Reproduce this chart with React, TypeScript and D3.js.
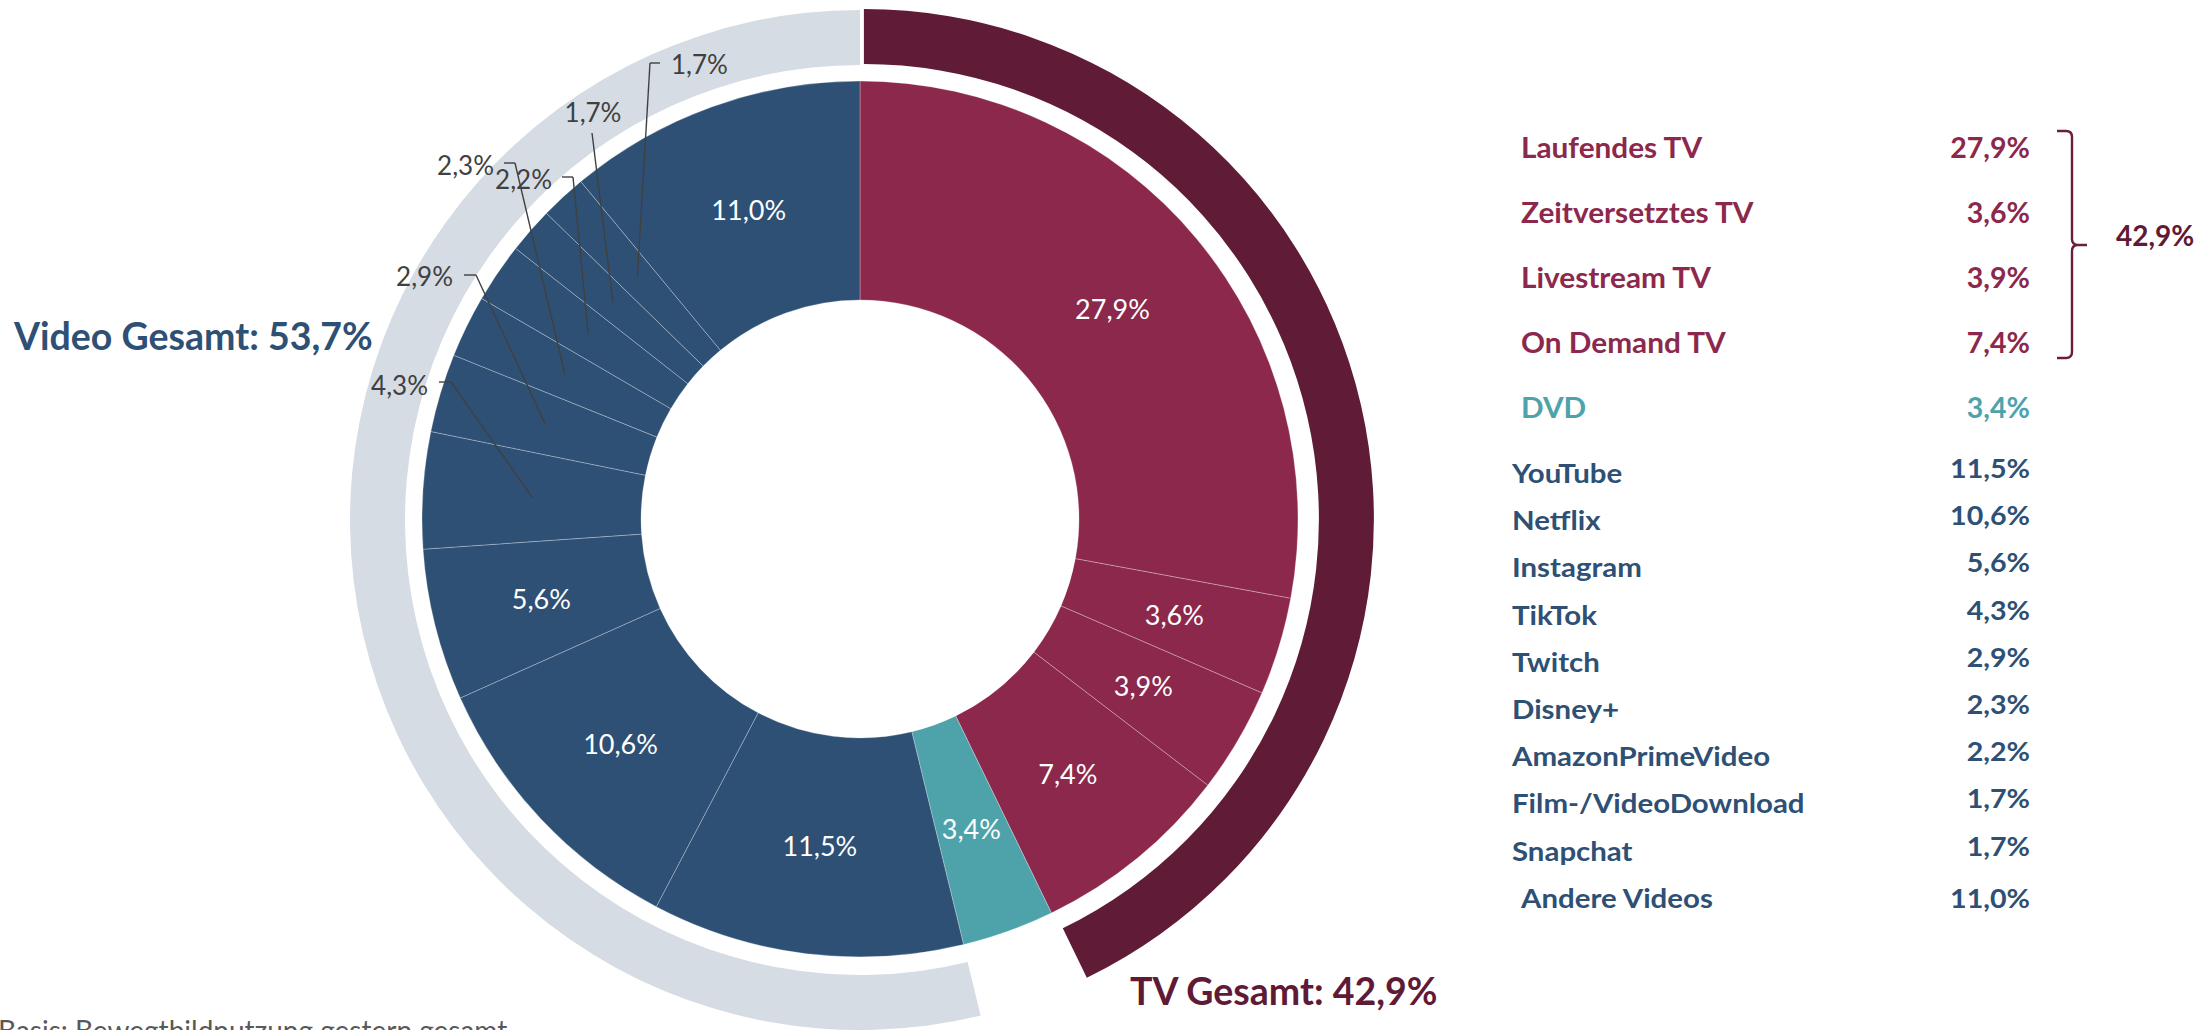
import React from "react";
import * as d3 from "d3";

// ---------- data ----------
const categories = [
  "Laufendes TV",
  "Zeitversetztes TV",
  "Livestream TV",
  "On Demand TV",
  "DVD",
  "YouTube",
  "Netflix",
  "Instagram",
  "TikTok",
  "Twitch",
  "Disney+",
  "AmazonPrimeVideo",
  "Film-/VideoDownload",
  "Snapchat",
  "Andere Videos",
];
const values = [27.9, 3.6, 3.9, 7.4, 3.4, 11.5, 10.6, 5.6, 4.3, 2.9, 2.3, 2.2, 1.7, 1.7, 11.0];
const groups = [
  "tv", "tv", "tv", "tv", "dvd",
  "video", "video", "video", "video", "video", "video", "video", "video", "video", "video",
];
const groupKeys = ["tv", "video"];
const groupTitles = ["TV Gesamt", "Video Gesamt"];
const groupTotals = [42.9, 53.7];
const footnote = "Basis: Bewegtbildnutzung gestern gesamt";

// ---------- layout / style ----------
const W = 2200;
const H = 1030;
const cx = 860;
const cy = 519;
const rIn = 219;
const rOut = 438;
const ringCy = 520;
const ringIn = 455;
const ringOut = 510;

const sliceColor: Record<string, string> = { tv: "#8c284c", dvd: "#4ea3aa", video: "#2e5075" };
const ringColor: Record<string, string> = { tv: "#601c36", video: "#d5dce4" };
const ringExplode: Record<string, number> = { tv: 4, video: 0 };
const totalColor: Record<string, string> = { tv: "#5f1a35", video: "#2e5075" };
const FONT = "Lato, 'Open Sans', sans-serif";

// hand-placed callouts for the small slices (absolute svg coords)
type Callout = { tx: number; ty: number; anchor: string; tick?: [number, number, number]; from: [number, number] };
const callouts: Record<string, Callout> = {
  TikTok: { tx: 428, ty: 385, anchor: "end", tick: [439, 451, 382], from: [451, 382] },
  Twitch: { tx: 453, ty: 276, anchor: "end", tick: [464, 476, 275], from: [476, 275] },
  "Disney+": { tx: 494, ty: 165, anchor: "end", tick: [504, 515, 163], from: [515, 163] },
  AmazonPrimeVideo: { tx: 552, ty: 179, anchor: "end", tick: [562, 573, 177], from: [573, 177] },
  "Film-/VideoDownload": { tx: 593, ty: 112, anchor: "middle", from: [592, 133] },
  Snapchat: { tx: 671, ty: 64, anchor: "start", tick: [650, 660, 63], from: [650, 63] },
};

const locale = d3.formatLocale({ decimal: ",", thousands: ".", grouping: [3], currency: ["", " €"] });
const f1 = locale.format(".1f");
const pct = (v: number) => f1(v) + "%";

function SText(props: { x: number; y: number; sx: number; anchor?: string; children: any }) {
  return (
    <text
      transform={`translate(${props.x},${props.y}) scale(${props.sx},1)`}
      textAnchor={props.anchor || "start"}
    >
      {props.children}
    </text>
  );
}

export default function App() {
  const data = categories.map((c, i) => ({ name: c, value: values[i], group: groups[i] }));
  const pie = d3
    .pie<any>()
    .sort(null)
    .value((d) => d.value)
    .startAngle(0)
    .endAngle(2 * Math.PI);
  const arcs = pie(data);

  const arcGen = d3.arc<any>().innerRadius(rIn).outerRadius(rOut);
  const midR = (rIn + rOut) / 2;
  const labelArc = d3.arc<any>().innerRadius(midR).outerRadius(midR);

  // outer group rings
  const ringArc = d3.arc<any>().innerRadius(ringIn).outerRadius(ringOut);
  const rings = groupKeys.map((g, gi) => {
    const members = arcs.filter((a) => a.data.group === g);
    const startAngle = d3.min(members, (a) => a.startAngle) as number;
    const endAngle = d3.max(members, (a) => a.endAngle) as number;
    const mid = (startAngle + endAngle) / 2;
    const off = ringExplode[g];
    return {
      key: g,
      d: ringArc({ startAngle, endAngle }),
      dx: Math.sin(mid) * off,
      dy: -Math.cos(mid) * off,
      title: groupTitles[gi],
      total: groupTotals[gi],
    };
  });

  // legend
  const tvLegend = data.filter((d) => d.group !== "video");
  const videoLegend = data.filter((d) => d.group === "video");
  const tvY = d3.scaleLinear().domain([0, 1]).range([158, 223]);
  const vidY = d3.scaleLinear().domain([0, 1]).range([483, 530.2]);
  const valueRight = 2030;

  return (
    <svg
      width={W}
      height={H}
      viewBox={`0 0 ${W} ${H}`}
      style={{ position: "absolute", left: 0, top: 0, background: "#fff" }}
      fontFamily={FONT}
    >
      {/* outer rings */}
      <g transform={`translate(${cx},${ringCy})`}>
        {rings.map((r) => (
          <path key={r.key} d={r.d as string} fill={ringColor[r.key]} transform={`translate(${r.dx},${r.dy})`} />
        ))}
      </g>

      {/* donut slices */}
      <g transform={`translate(${cx},${cy})`}>
        {arcs.map((a, i) => (
          <path
            key={i}
            d={arcGen(a) as string}
            fill={sliceColor[a.data.group]}
            stroke="rgba(255,255,255,0.35)"
            strokeWidth={0.8}
          />
        ))}
        {arcs
          .filter((a) => !callouts[a.data.name])
          .map((a, i) => {
            const [x, y] = labelArc.centroid(a);
            return (
              <text
                key={i}
                x={x}
                y={y}
                textAnchor="middle"
                dominantBaseline="central"
                fill="#ffffff"
                fontSize={27}
              >
                {pct(a.data.value)}
              </text>
            );
          })}
      </g>

      {/* callouts for small slices */}
      {arcs
        .filter((a) => callouts[a.data.name])
        .map((a, i) => {
          const c = callouts[a.data.name];
          const [px, py] = labelArc.centroid(a);
          return (
            <g key={i}>
              {c.tick && (
                <line x1={c.tick[0]} x2={c.tick[1]} y1={c.tick[2]} y2={c.tick[2]} stroke="#404040" strokeWidth={1.4} />
              )}
              <line x1={c.from[0]} y1={c.from[1]} x2={cx + px} y2={cy + py} stroke="#404040" strokeWidth={1.4} />
              <text x={c.tx} y={c.ty} textAnchor={c.anchor} dominantBaseline="central" fill="#404040" fontSize={26}>
                {pct(a.data.value)}
              </text>
            </g>
          );
        })}

      {/* group totals */}
      <text x={14} y={350} fill={totalColor.video} fontSize={37.5} fontWeight={700}>
        {`${rings[1].title}: ${pct(rings[1].total)}`}
      </text>
      <text x={1130} y={1005} fill={totalColor.tv} fontSize={37.5} fontWeight={700}>
        {`${rings[0].title}: ${pct(rings[0].total)}`}
      </text>

      {/* legend: TV + DVD */}
      {tvLegend.map((d, i) => (
        <g key={d.name} fill={sliceColor[d.group]} fontSize={28} fontWeight={700}>
          <SText x={1521} y={tvY(i)} sx={1.064}>{d.name}</SText>
          <SText x={valueRight} y={tvY(i)} sx={1.02} anchor="end">{pct(d.value)}</SText>
        </g>
      ))}

      {/* bracket for TV total */}
      <path
        d="M2057,131 L2066,131 Q2072,131 2072,137 L2072,239 Q2072,245 2078,245 L2087,245 M2078,245 Q2072,245 2072,251 L2072,352 Q2072,358 2066,358 L2057,358"
        fill="none"
        stroke="#6b1f3e"
        strokeWidth={2.4}
      />
      <text x={2116} y={246} fill={totalColor.tv} fontSize={28} fontWeight={700}>
        {pct(groupTotals[0])}
      </text>

      {/* legend: video */}
      {videoLegend.map((d, i) => {
        const last = i === videoLegend.length - 1;
        const y = vidY(i);
        return (
          <g key={d.name} fill={sliceColor.video} fontSize={27} fontWeight={700}>
            <SText x={last ? 1521 : 1512} y={y} sx={1.09}>{d.name}</SText>
            <SText x={valueRight} y={last ? y : y - 5} sx={1.06} anchor="end">{pct(d.value)}</SText>
          </g>
        );
      })}

      {/* footnote */}
      <text x={-2} y={1041} fill="#595959" fontSize={28}>
        {footnote}
      </text>
    </svg>
  );
}
